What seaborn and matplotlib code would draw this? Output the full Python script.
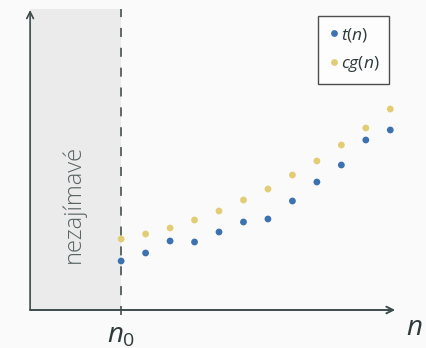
import numpy as np
import pandas as pd
import matplotlib
matplotlib.use("Agg")
import matplotlib.pyplot as plt
import seaborn as sns

# Input sizes past n0 and the measured values of both functions
n_steps = list(range(12))
t_vals = [4.9, 5.7, 6.9, 6.8, 7.8, 8.8, 9.1, 10.9, 12.8, 14.5, 17.0, 18.0]
cg_vals = [7.1, 7.6, 8.2, 9.0, 9.9, 11.0, 12.1, 13.5, 14.9, 16.5, 18.2, 20.1]
series_labels = [r"$t(n)$", r"$cg(n)$"]
shade_label = "nezajímavé"

BG = "#fafafa"
BLUE = "#3d72b0"
YELLOW = "#e2cd76"
AXIS = "#3e4b4b"
TEXT = "#2f3b3b"

sns.set_theme(style="white")
plt.rcParams["font.family"] = ["Open Sans", "DejaVu Sans"]
plt.rcParams["mathtext.fontset"] = "custom"
plt.rcParams["mathtext.rm"] = "Open Sans"
plt.rcParams["mathtext.it"] = "Open Sans:italic"

df = pd.DataFrame({
    "n": n_steps * 2,
    "value": t_vals + cg_vals,
    "series": [series_labels[0]] * len(n_steps) + [series_labels[1]] * len(n_steps),
})

fig = plt.figure(figsize=(4.27, 3.48), dpi=100, facecolor=BG)
ax = fig.add_axes([0, 0, 1, 1])
ax.set_facecolor(BG)

x0, x1 = -3.72, 11.2   # axis extents
ytop = 30.0
ax.set_xlim(-4.95, 12.5)
ax.set_ylim(-3.8, 31.0)
ax.axis("off")

# uninteresting region left of n0
ax.fill_between([x0, 0], 0, 30.1, color="#ebebeb", lw=0, zorder=0)
ax.plot([0, 0], [-0.5, 30.1], ls=(0, (5, 6)), color="#555d5d", lw=1.3, zorder=1)
ax.text(-1.95, 10.6, shade_label, rotation=90, ha="center", va="center",
        fontsize=17, fontweight="light", color="#5a6464")

# axes with arrowheads
ax.annotate("", xy=(x1, 0), xytext=(x0, 0),
            arrowprops=dict(arrowstyle="->", color=AXIS, lw=1.4, shrinkA=0, shrinkB=0))
ax.annotate("", xy=(x0, ytop), xytext=(x0, 0),
            arrowprops=dict(arrowstyle="->", color=AXIS, lw=1.2, shrinkA=0, shrinkB=0))

sns.scatterplot(data=df, x="n", y="value", hue="series",
                palette=[BLUE, YELLOW], s=24, linewidth=0, ax=ax, zorder=3)

ax.text(0, -2.55, r"$n_0$", ha="center", va="center", fontsize=20, color=TEXT)
ax.text(11.97, -1.8, r"$n$", ha="center", va="center", fontsize=20, color=TEXT)

leg = ax.legend(loc="upper right", bbox_to_anchor=(389 / 427, 1 - 16 / 348),
                borderaxespad=0, fontsize=12.5, frameon=True, fancybox=False,
                handletextpad=0.05, handlelength=0.7, borderpad=0.55,
                labelspacing=0.6, markerscale=1.0)
leg.get_frame().set_edgecolor("#222222")
leg.get_frame().set_linewidth(1.0)
leg.get_frame().set_facecolor("white")
for txt in leg.get_texts():
    txt.set_color(TEXT)

fig.savefig("out.png", dpi=100, facecolor=BG)
